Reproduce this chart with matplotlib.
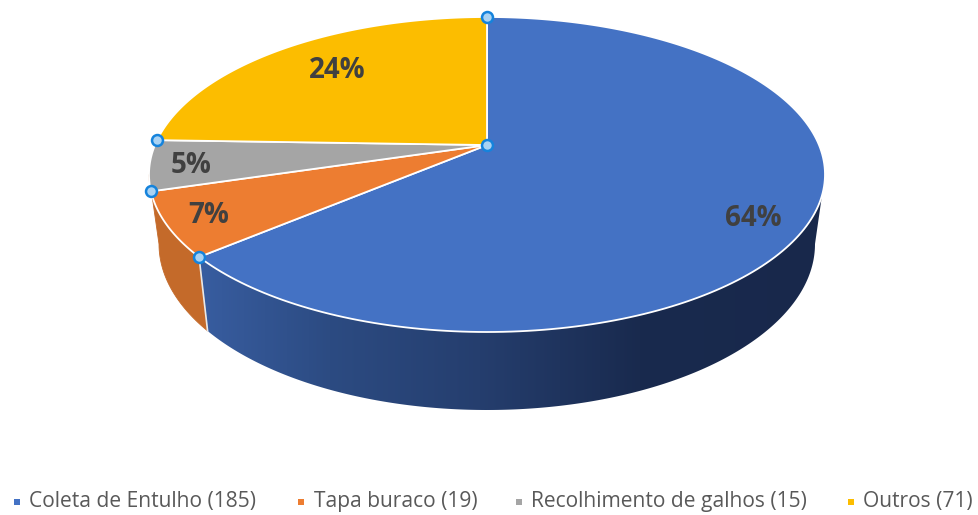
"""Perspective 3D pie: collection categories, with a drawn wall and selection handles."""

import numpy as np
import matplotlib
matplotlib.use("Agg")
import matplotlib.pyplot as plt
from matplotlib.patches import Polygon

CATEGORIES = ["Coleta de Entulho (185)", "Tapa buraco (19)", "Recolhimento de galhos (15)", "Outros (71)"]
VALUES = [185, 19, 15, 71]
PERCENT_LABELS = ["64%", "7%", "5%", "24%"]
COLORS = ["#4472C4", "#ED7D31", "#A5A5A5", "#FCBD00"]
WALL_ORANGE = "#C46A2A"

W, H = 979, 515
CX = 487
TOP_CY, TOP_RX, TOP_RY = 174.5, 338, 157.5
BOT_CX, BOT_CY, BOT_RX, BOT_RY = 487, 244, 328, 166
PERSP = 0.187  # where the pie centre lands inside the ellipse
LABEL_POS = [(753, 218.5), (209, 215.5), (191, 165.5), (337, 70.5)]
LEGEND_SQUARE_X = [17, 301, 519, 851]
LEGEND_TEXT_X = [29, 314, 531, 863]
LEGEND_Y = 501


def perspective_param(theta):
    """Clockwise pie angle from 12 o'clock -> clockwise angle on the drawn ellipse."""
    x = np.sin(theta) * np.sqrt(1 - PERSP ** 2)
    y = np.cos(theta) + PERSP
    return np.arctan2(x, y) % (2 * np.pi)


def rim(phi):
    return CX + TOP_RX * np.sin(phi), TOP_CY - TOP_RY * np.cos(phi)


def bottom_rim(phi):
    return BOT_CX + BOT_RX * np.sin(phi), BOT_CY - BOT_RY * np.cos(phi)


fig = plt.figure(figsize=(W / 100, H / 100), dpi=100, facecolor="white")
ax = fig.add_axes([0, 0, 1, 1])

fractions = np.cumsum([0] + VALUES) / sum(VALUES)
angles = fractions * 2 * np.pi
center = (CX, TOP_CY - TOP_RY * PERSP)

# wall first, top face goes over it
boundary = perspective_param(angles[1])
wall_phi = np.linspace(np.pi / 2, boundary, 200)
xs_t, ys_t = rim(wall_phi)
xs_b, ys_b = bottom_rim(wall_phi)
wall_poly = Polygon(np.c_[np.r_[xs_t, xs_b[::-1]], np.r_[ys_t, ys_b[::-1]]], closed=True,
                    facecolor="none", edgecolor="none")
ax.add_patch(wall_poly)

grad_x = np.arange(190, 840)
stops_x = [200, 330, 480, 640, 830]
stops_rgb = np.array([[56, 93, 160], [44, 75, 130], [37, 62, 110], [25, 42, 78], [24, 40, 75]]) / 255
grad = np.stack([np.interp(grad_x, stops_x, stops_rgb[:, i]) for i in range(3)], axis=-1)[np.newaxis, :, :]
img = ax.imshow(grad, extent=(190, 840, 420, 160), aspect="auto", interpolation="bilinear", zorder=1)
img.set_clip_path(wall_poly)

orange_phi = np.linspace(boundary, 3 * np.pi / 2, 30)
xs_t, ys_t = rim(orange_phi)
xs_b, ys_b = bottom_rim(orange_phi)
ax.fill(np.r_[xs_t, xs_b[::-1]], np.r_[ys_t, ys_b[::-1]], color=WALL_ORANGE, lw=0.6, zorder=1)

bx, by = rim(boundary)
bx2, by2 = bottom_rim(boundary)
ax.plot([bx, bx2], [by, by2], color="#E8E8E8", lw=1.2, zorder=2)

# top face
for i, color in enumerate(COLORS):
    theta = np.linspace(angles[i], angles[i + 1], 200)
    px, py = rim(perspective_param(theta))
    ax.fill(np.r_[center[0], px], np.r_[center[1], py], facecolor=color,
            edgecolor="white", lw=1.3, joinstyle="round", zorder=3)

for label, (lx, ly) in zip(PERCENT_LABELS, LABEL_POS):
    ax.text(lx, ly, label, ha="center", va="center", fontsize=20, fontweight="bold",
            family="Open Sans", color="#404040", zorder=5)

# selection handles
handle_x, handle_y = [center[0]], [center[1]]
for a in angles[:-1]:
    hx, hy = rim(perspective_param(a))
    handle_x.append(hx)
    handle_y.append(hy)
ax.scatter(handle_x, handle_y, s=62, facecolor="#A9D2F3", edgecolor="#1583DC", linewidth=1.8, zorder=6)

# legend, placed by hand
for name, color, sx, tx in zip(CATEGORIES, COLORS, LEGEND_SQUARE_X, LEGEND_TEXT_X):
    ax.scatter([sx], [LEGEND_Y + 1], marker="s", s=20, color=color, linewidth=0)
    ax.text(tx, LEGEND_Y, name, ha="left", va="center", fontsize=15.1,
            family="Open Sans", color="#595959")

ax.set_xlim(0, W)
ax.set_ylim(H, 0)
ax.axis("off")

fig.savefig("out.png", dpi=100, facecolor="white")
plt.close(fig)
